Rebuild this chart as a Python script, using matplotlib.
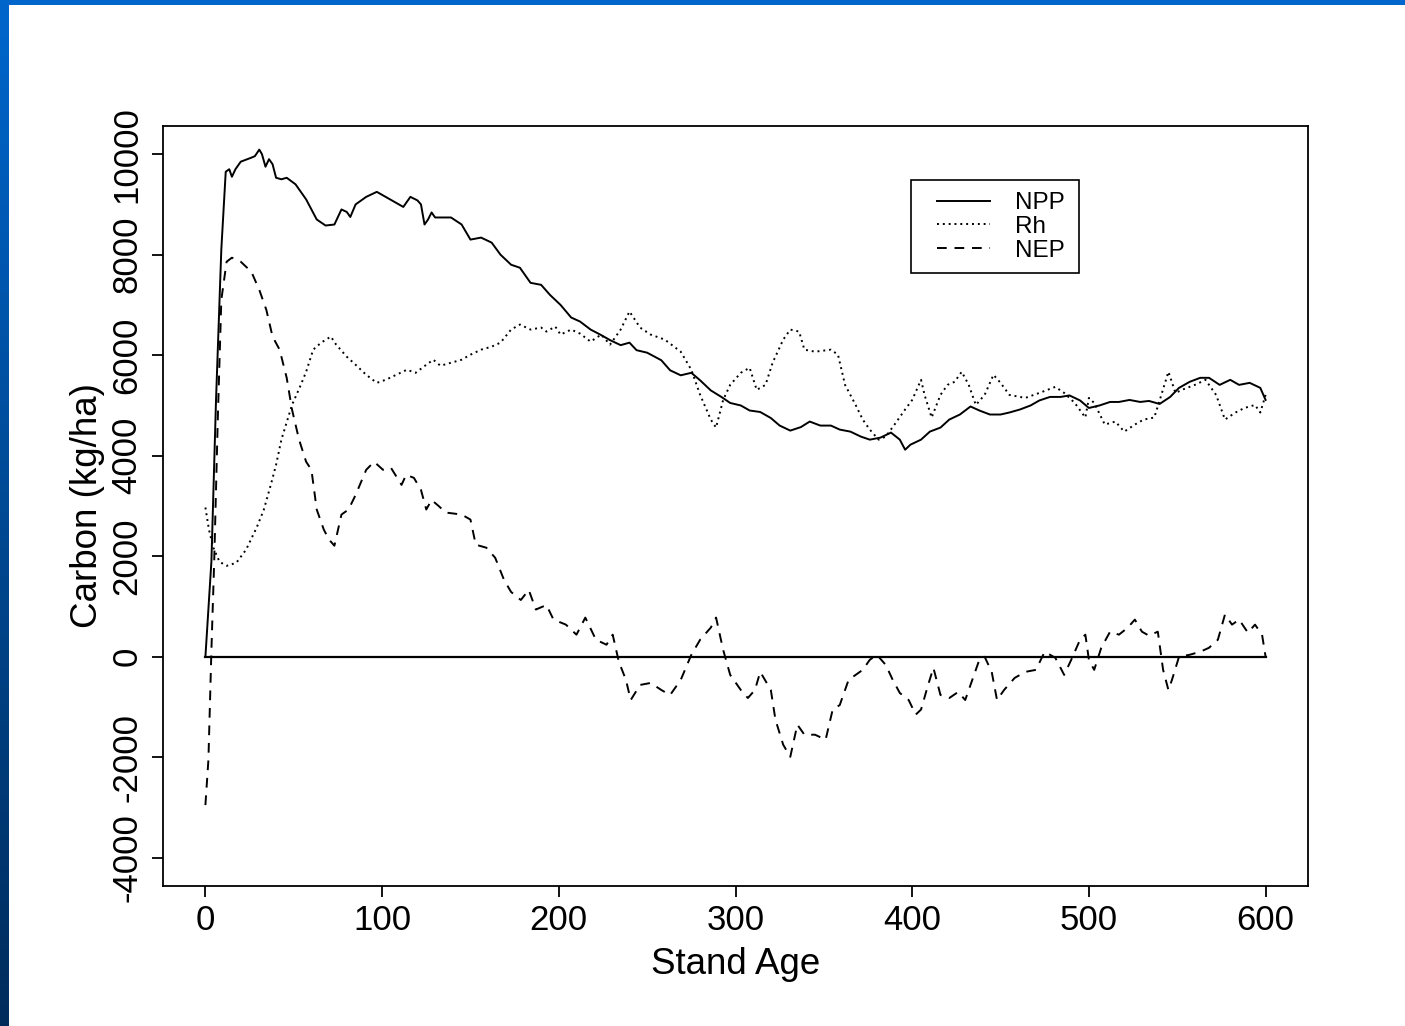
import matplotlib
matplotlib.use("Agg")
import matplotlib.pyplot as plt
import numpy as np
from matplotlib.patches import Rectangle

plt.rcParams['font.family'] = ['Liberation Sans', 'DejaVu Sans']

# NPP (solid)
npp_age = [0, 3.4, 6, 9, 11.5, 13.5, 15, 17, 20, 26, 28, 30.5, 32, 34, 36, 38, 40, 43, 46, 51,
           57, 63, 68, 73, 77, 80, 82, 85, 91, 97, 102, 108, 112, 116, 120, 122, 124, 126, 128, 130,
           139, 145, 150, 156, 162, 167, 173, 178, 184, 190, 195, 201, 207, 212, 218, 224, 229, 235, 240, 244,
           250, 258, 263, 269, 275, 280, 286, 292, 297, 303, 308, 314, 320, 325, 331, 337, 342, 348, 354, 359,
           365, 371, 376, 382, 388, 393, 396, 399, 405, 410, 416, 421, 427, 433, 438, 444, 450, 455, 461, 467,
           472, 478, 484, 489, 495, 500, 506, 512, 517, 523, 529, 534, 540, 546, 551, 557, 563, 568, 574, 580,
           585, 591, 597, 600]
npp_val = [0, 1900, 5100, 8100, 9650, 9700, 9550, 9700, 9850, 9930, 9960, 10090, 10000, 9750, 9900, 9800, 9530, 9500, 9530, 9400,
           9100, 8700, 8580, 8600, 8900, 8850, 8750, 9000, 9150, 9250, 9150, 9030, 8950, 9150, 9080, 9000, 8600, 8700, 8840, 8740,
           8740, 8600, 8300, 8340, 8240, 8000, 7800, 7740, 7440, 7400, 7200, 7000, 6750, 6670, 6510, 6400, 6300, 6200, 6250, 6100,
           6050, 5900, 5700, 5600, 5650, 5500, 5300, 5170, 5050, 5000, 4900, 4870, 4750, 4600, 4500, 4570, 4680, 4600, 4600, 4520,
           4480, 4380, 4320, 4360, 4460, 4320, 4120, 4220, 4320, 4480, 4560, 4720, 4820, 4980, 4900, 4820, 4820, 4860, 4920, 5000,
           5100, 5170, 5170, 5200, 5100, 4950, 5000, 5070, 5070, 5110, 5070, 5090, 5030, 5170, 5350, 5470, 5550, 5550, 5410, 5510,
           5410, 5450, 5350, 5110]

# Rh (dotted)
rh_age = [0, 2, 4.5, 8, 12, 17.5, 23, 29, 33, 37, 40, 43, 49, 54, 57, 61, 65.5, 71, 74, 80,
          85, 91, 97, 102, 108, 114, 119, 125, 129, 133, 139, 145, 150, 156, 162, 167, 173, 178, 184, 190,
          193, 198, 201, 207, 212, 218, 224, 229, 235, 240, 246, 252, 260, 269, 275, 280, 286, 289, 293, 297,
          303, 308, 312, 317, 321, 327, 331, 336, 339, 345, 354, 358, 362, 368, 372, 376, 381, 385, 390, 396,
          400, 405, 407, 411, 416, 420, 424, 428, 432, 436, 441, 446, 450, 455, 464, 472, 481, 486, 492, 498,
          500, 503, 509, 515, 520, 526, 531, 537, 541, 545, 549, 554, 560, 566, 572, 577, 583, 588, 594, 597,
          600]
rh_val = [2970, 2530, 2170, 1890, 1810, 1870, 2130, 2570, 2920, 3420, 3820, 4320, 5010, 5410, 5670, 6110, 6250, 6370, 6210, 5970,
          5810, 5610, 5450, 5510, 5610, 5710, 5650, 5810, 5910, 5790, 5850, 5910, 6010, 6110, 6170, 6250, 6510, 6610, 6510, 6550,
          6470, 6570, 6410, 6510, 6430, 6270, 6410, 6210, 6510, 6870, 6550, 6410, 6310, 6070, 5710, 5210, 4720, 4560, 5110, 5410,
          5650, 5750, 5310, 5410, 5850, 6310, 6510, 6470, 6110, 6070, 6110, 6010, 5410, 5010, 4720, 4520, 4320, 4380, 4620, 4920,
          5110, 5510, 5210, 4760, 5210, 5410, 5470, 5670, 5410, 5010, 5210, 5610, 5450, 5210, 5150, 5250, 5370, 5250, 5050, 4760,
          5150, 5050, 4620, 4680, 4480, 4620, 4720, 4760, 5210, 5670, 5250, 5330, 5410, 5510, 5210, 4720, 4860, 4950, 5010, 4860,
          5210]

# NEP (dashed)
nep_age = [0, 1.7, 3.4, 5, 7, 9, 12, 15, 20, 26, 30.5, 34.5, 38, 42, 46, 49, 53, 57, 60, 63,
           67, 70, 73, 77, 81, 85, 91, 95.5, 100.5, 105, 111, 113.6, 118, 122, 125, 128, 132, 136, 145, 150,
           153, 159, 164, 169, 173, 178.5, 183, 187, 193, 197, 204, 210, 215, 221, 227, 230.5, 234, 238, 240.7, 246,
           252, 258, 263, 269, 275, 280, 286, 289, 293, 297, 303, 307, 311, 314, 320, 322.6, 327, 331, 335, 339,
           345, 351, 355, 359, 364, 368, 372, 376, 380, 385, 389, 393, 398, 402, 405, 409, 412, 416, 421, 426,
           430, 434, 438, 441, 445, 448, 452, 458, 464, 470, 475, 481, 486, 490, 495, 498, 500, 503, 507, 512,
           517, 522, 526, 530, 534, 539, 542, 545, 547, 551, 557, 563, 568, 573, 577, 581, 585, 590, 594, 598,
           600]
nep_val = [-2950, -2050, 140, 1930, 4720, 7100, 7860, 7940, 7860, 7660, 7300, 6900, 6370, 6110, 5550, 4920, 4320, 3880, 3720, 2930,
           2530, 2330, 2210, 2830, 2930, 3220, 3720, 3880, 3720, 3760, 3420, 3620, 3560, 3320, 2930, 3120, 3000, 2870, 2830, 2730,
           2230, 2170, 1970, 1530, 1290, 1130, 1330, 940, 1030, 740, 640, 440, 780, 340, 240, 440, -100, -460, -860, -560,
           -520, -660, -760, -460, 40, 340, 580, 780, 140, -360, -660, -820, -660, -300, -660, -1250, -1750, -1990, -1350, -1550,
           -1550, -1650, -1050, -960, -460, -360, -260, -60, 40, -160, -460, -720, -860, -1150, -1050, -560, -220, -760, -820, -700,
           -860, -460, -60, 0, -300, -860, -660, -420, -300, -260, 100, -20, -360, -60, 340, 440, -60, -260, 180, 500,
           440, 580, 740, 500, 420, 500, -260, -660, -460, 0, 40, 100, 180, 340, 840, 640, 740, 480, 640, 440,
           0]

x_ticks = [0, 100, 200, 300, 400, 500, 600]
y_ticks = [-4000, -2000, 0, 2000, 4000, 6000, 8000, 10000]

fig = plt.figure(figsize=(14.05, 10.26), dpi=100)
fig.patch.set_facecolor('white')

# slide frame: blue band on top, gradient band down the left
fig.patches.append(Rectangle((0, 1 - 5 / 1026), 1, 5 / 1026, transform=fig.transFigure,
                             facecolor='#0066cc', edgecolor='none', zorder=0))
band = fig.add_axes([0, 0, 9 / 1405, 1])
grad = np.linspace(0, 1, 256)[:, None]
top_c = np.array([0, 102, 204]) / 255
bot_c = np.array([0, 44, 92]) / 255
band.imshow((top_c + (bot_c - top_c) * grad[..., None]).reshape(256, 1, 3), aspect='auto',
            extent=[0, 1, 0, 1], origin='upper')
band.axis('off')

ax = fig.add_axes([163 / 1405, 1 - 886 / 1026, (1308 - 163) / 1405, (886 - 126) / 1026])

ax.plot(npp_age, npp_val, color='black', lw=1.4, ls='-', label='NPP')
ax.plot(rh_age, rh_val, color='black', lw=1.4, ls=(0, (1, 2)), label='Rh')
ax.plot(nep_age, nep_val, color='black', lw=1.4, ls=(0, (5, 4)), label='NEP')
ax.plot([x_ticks[0], x_ticks[-1]], [0, 0], color='black', lw=1.6)

ax.set_xlim(-24, 624)
ax.set_ylim(-4560, 10560)
ax.set_xticks(x_ticks)
ax.set_yticks(y_ticks)
ax.set_xticklabels([str(v) for v in x_ticks])
ax.set_yticklabels([str(v) for v in y_ticks], rotation=90, va='center')
ax.tick_params(direction='out', length=8, width=1.3, labelsize=25, colors='black')
ax.tick_params(axis='x', pad=5)
ax.tick_params(axis='y', pad=6)
for sp in ax.spines.values():
    sp.set_linewidth(1.3)

ax.set_xlabel('Stand Age', fontsize=26.5, labelpad=7)
ax.set_ylabel('Carbon (kg/ha)', fontsize=26.5, labelpad=4)

leg = ax.legend(loc='upper left', bbox_to_anchor=(0.676, 0.913), frameon=False,
                fontsize=17.5, handlelength=2.18, handletextpad=1.03, labelspacing=0.07,
                borderpad=0, borderaxespad=0)
ax.add_patch(Rectangle((0.6533, 0.8066), 0.1467, 0.1224, transform=ax.transAxes,
                       fill=False, edgecolor='black', lw=1.2, zorder=5))

fig.savefig('out.png', dpi=100)
